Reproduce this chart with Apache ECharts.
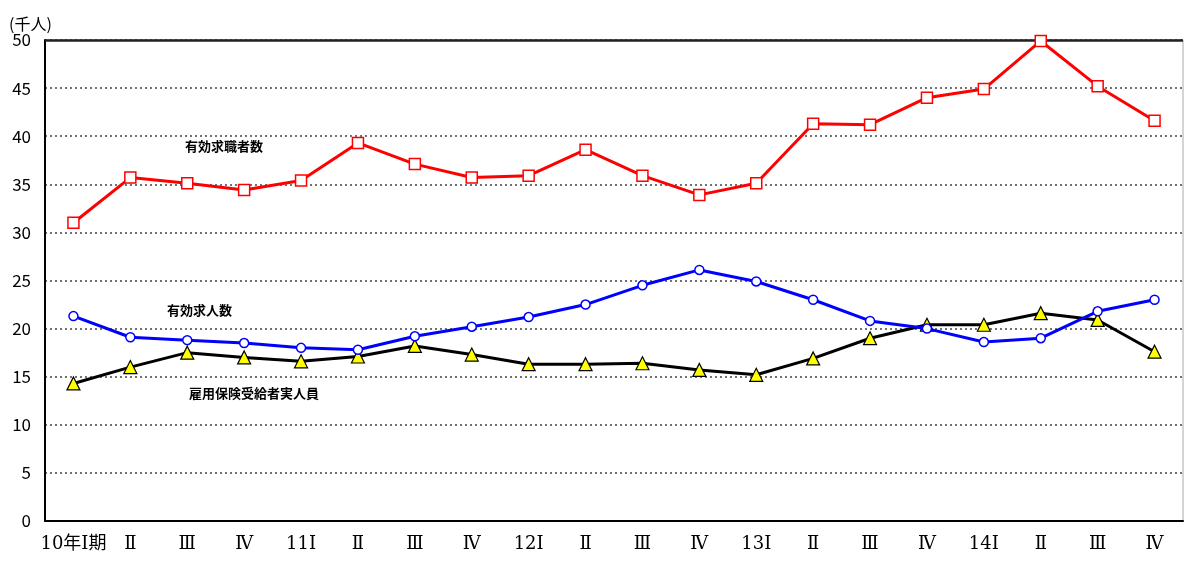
<!DOCTYPE html>
<html><head><meta charset="utf-8">
<script src="https://cdn.jsdelivr.net/npm/echarts@6/dist/echarts.min.js"></script>
<style>html,body{margin:0;padding:0;background:#fff}#c{width:1184px;height:562px}</style>
</head><body><div id="c"></div>
<script>
const categories = ['10年Ⅰ期','Ⅱ','Ⅲ','Ⅳ','11Ⅰ','Ⅱ','Ⅲ','Ⅳ','12Ⅰ','Ⅱ','Ⅲ','Ⅳ','13Ⅰ','Ⅱ','Ⅲ','Ⅳ','14Ⅰ','Ⅱ','Ⅲ','Ⅳ'];
const jobSeekers = [31.0,35.7,35.1,34.4,35.4,39.3,37.1,35.7,35.9,38.6,35.9,33.9,35.1,41.3,41.2,44.0,44.9,49.9,45.2,41.6];
const jobOffers = [21.3,19.1,18.8,18.5,18.0,17.8,19.2,20.2,21.2,22.5,24.5,26.1,24.9,23.0,20.8,20.0,18.6,19.0,21.8,23.0];
const insured = [14.3,16.0,17.5,17.0,16.6,17.1,18.2,17.3,16.3,16.3,16.4,15.7,15.2,16.9,19.0,20.4,20.4,21.6,20.9,17.6];
const seriesNames = ['有効求職者数','有効求人数','雇用保険受給者実人員'];
const yTicks = {min:0, max:50, interval:5};

const font = '"Noto Sans CJK JP", "DejaVu Sans", sans-serif';
const xfont = '"DejaVu Serif", "Liberation Serif", "Noto Sans CJK JP", serif';
const chart = echarts.init(document.getElementById('c'));
chart.setOption({
  animation:false,
  backgroundColor:'#fff',
  grid:{left:45,right:1,top:40,bottom:41,show:true,borderColor:'#aaa',borderWidth:1},
  xAxis:{type:'category',data:categories,boundaryGap:true,
    axisLine:{lineStyle:{color:'#000',width:2}},axisTick:{show:false},
    axisLabel:{color:'#000',fontSize:18,fontFamily:xfont,margin:14,interval:0}},
  yAxis:{type:'value',min:yTicks.min,max:yTicks.max,interval:yTicks.interval,
    name:'(千人)',nameLocation:'end',nameGap:6,
    nameTextStyle:{color:'#000',fontSize:16,fontFamily:font,align:'left',padding:[0,0,0,-36]},
    axisLine:{show:true,lineStyle:{color:'#000',width:2}},axisTick:{show:false},
    axisLabel:{color:'#000',fontSize:17,fontFamily:font,margin:14},
    splitLine:{show:true,lineStyle:{color:'#444',type:[2,3],width:1.5}}},
  series:[
    {name:seriesNames[0],type:'line',data:jobSeekers,symbol:'rect',symbolSize:11,
     lineStyle:{color:'#ff0000',width:3},itemStyle:{color:'#fff',borderColor:'#ff0000',borderWidth:1.5},z:5,
     markLine:{silent:true,symbol:'none',label:{show:false},lineStyle:{color:'#222',type:'solid',width:2.5},data:[{yAxis:50}]}},
    {name:seriesNames[1],type:'line',data:jobOffers,symbol:'circle',symbolSize:9,
     lineStyle:{color:'#0000ff',width:3},itemStyle:{color:'#fff',borderColor:'#0000ff',borderWidth:1.5},z:4},
    {name:seriesNames[2],type:'line',data:insured,symbol:'triangle',symbolSize:13,
     lineStyle:{color:'#000',width:3},itemStyle:{color:'#ffff00',borderColor:'#000',borderWidth:1.2},z:3}
  ],
  graphic:[
    {type:'text',left:185,top:140,style:{text:seriesNames[0],fontSize:13,fontWeight:'bold',fontFamily:font,fill:'#000'}},
    {type:'text',left:167,top:304,style:{text:seriesNames[1],fontSize:13,fontWeight:'bold',fontFamily:font,fill:'#000'}},
    {type:'text',left:189,top:387,style:{text:seriesNames[2],fontSize:13,fontWeight:'bold',fontFamily:font,fill:'#000'}}
  ]
});
</script></body></html>
